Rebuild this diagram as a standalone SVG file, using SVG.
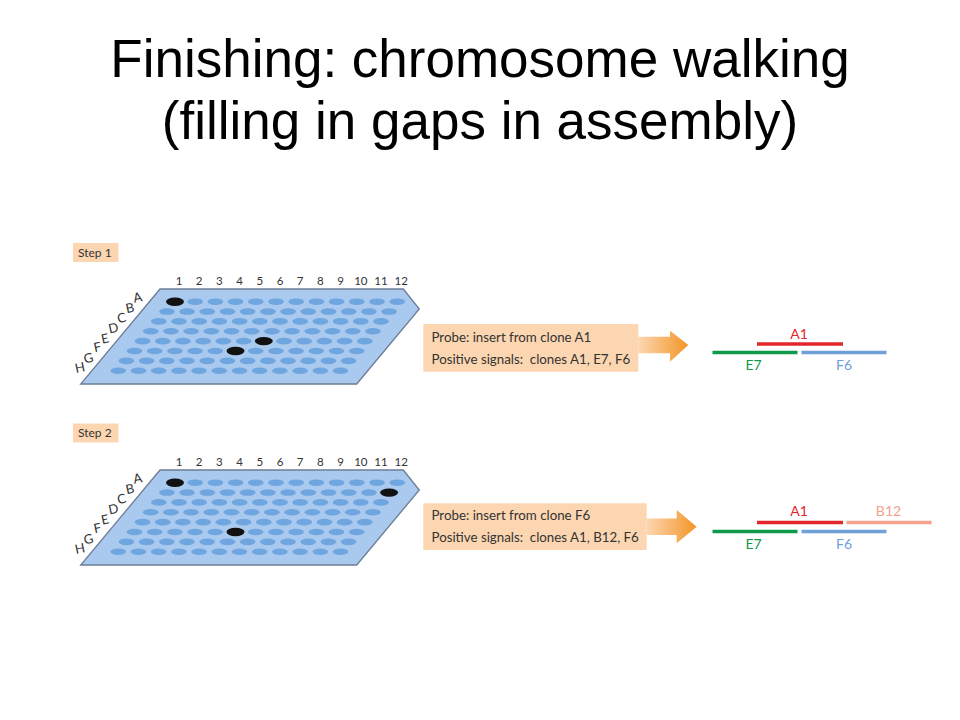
<svg xmlns="http://www.w3.org/2000/svg" xmlns:xlink="http://www.w3.org/1999/xlink" width="960" height="720" viewBox="0 0 960 720">
<style>
.title{font-family:"Liberation Sans",Arial,sans-serif;font-size:53px;fill:#000;text-anchor:middle}
.lbl{font-family:Lato,"Open Sans",sans-serif;fill:#333}
.step{font-size:12px}
.col{font-size:11.5px;text-anchor:middle}
.row{font-size:13px;text-anchor:middle}
.probe{font-size:13.3px}
.frag{font-family:Lato,"Open Sans",sans-serif;font-size:14px;text-anchor:middle}
.plate{fill:#a9c9ee;stroke:#6b7d95;stroke-width:1.3}
.well{fill:#6fa6e0}
.hit{fill:#111}
.peach{fill:#fcd6b1}
.bar{stroke-width:3.5;fill:none}
</style>
<defs>
<g id="wellrow">
<ellipse class="well" cx="0" cy="0" rx="7.8" ry="3.3"/>
<ellipse class="well" cx="20.2" cy="0" rx="7.8" ry="3.3"/>
<ellipse class="well" cx="40.4" cy="0" rx="7.8" ry="3.3"/>
<ellipse class="well" cx="60.6" cy="0" rx="7.8" ry="3.3"/>
<ellipse class="well" cx="80.8" cy="0" rx="7.8" ry="3.3"/>
<ellipse class="well" cx="101" cy="0" rx="7.8" ry="3.3"/>
<ellipse class="well" cx="121.2" cy="0" rx="7.8" ry="3.3"/>
<ellipse class="well" cx="141.4" cy="0" rx="7.8" ry="3.3"/>
<ellipse class="well" cx="161.6" cy="0" rx="7.8" ry="3.3"/>
<ellipse class="well" cx="181.8" cy="0" rx="7.8" ry="3.3"/>
<ellipse class="well" cx="202" cy="0" rx="7.8" ry="3.3"/>
<ellipse class="well" cx="222.2" cy="0" rx="7.8" ry="3.3"/>
</g>
<g id="plateBase">
<polygon class="plate" points="160,289 403.3,289 419.3,309 356.7,384 80.7,384"/>
<use xlink:href="#wellrow" transform="translate(175,301.7)"/>
<use xlink:href="#wellrow" transform="translate(166.9,311.56)"/>
<use xlink:href="#wellrow" transform="translate(158.8,321.42)"/>
<use xlink:href="#wellrow" transform="translate(150.7,331.28)"/>
<use xlink:href="#wellrow" transform="translate(142.6,341.14)"/>
<use xlink:href="#wellrow" transform="translate(134.5,351)"/>
<use xlink:href="#wellrow" transform="translate(126.4,360.86)"/>
<use xlink:href="#wellrow" transform="translate(118.3,370.72)"/>
<g class="lbl col">
<text x="179" y="285">1</text><text x="199.2" y="285">2</text><text x="219.4" y="285">3</text><text x="239.6" y="285">4</text><text x="259.8" y="285">5</text><text x="280" y="285">6</text><text x="300.2" y="285">7</text><text x="320.4" y="285">8</text><text x="340.6" y="285">9</text><text x="360.8" y="285">10</text><text x="381" y="285">11</text><text x="401.2" y="285">12</text>
</g>
<g class="lbl row">
<text x="137.5" y="302" transform="rotate(-12 137.5 297.5)">A</text>
<text x="130" y="312.5" transform="rotate(-12 130 308)">B</text>
<text x="121.5" y="322.5" transform="rotate(-12 121.5 318)">C</text>
<text x="113.5" y="332.5" transform="rotate(-12 113.5 328)">D</text>
<text x="105" y="343" transform="rotate(-12 105 338.5)">E</text>
<text x="97.5" y="351.5" transform="rotate(-12 97.5 347)">F</text>
<text x="88.5" y="362.5" transform="rotate(-12 88.5 358)">G</text>
<text x="80" y="372" transform="rotate(-12 80 367.5)">H</text>
</g>
</g>
<linearGradient id="arrowGrad" x1="0" y1="0" x2="1" y2="0">
<stop offset="0" stop-color="#fcd6b1"/>
<stop offset="1" stop-color="#f39526"/>
</linearGradient>
</defs>

<g id="title">
<text class="title" x="480" y="77">Finishing: chromosome walking</text>
<text class="title" x="480" y="139">(filling in gaps in assembly)</text>
</g>

<g id="step1-label">
<rect class="peach" x="73" y="243" width="45.5" height="19"/>
<text class="lbl step" x="78" y="256.5">Step 1</text>
</g>

<g id="plate1">
<use xlink:href="#plateBase"/>
<ellipse class="hit" cx="175" cy="301.7" rx="9" ry="4.2"/>
<ellipse class="hit" cx="263.8" cy="341.1" rx="9" ry="4.2"/>
<ellipse class="hit" cx="235.5" cy="351" rx="9" ry="4.2"/>
</g>

<g id="probe1">
<rect class="peach" x="423.3" y="324" width="215" height="47.7"/>
<text class="lbl probe" x="431.5" y="341.5">Probe: insert from clone A1</text>
<text class="lbl probe" x="431.5" y="364" xml:space="preserve">Positive signals:  clones A1, E7, F6</text>
</g>

<g id="fragments1">
<line class="bar" x1="757" y1="344" x2="843" y2="344" stroke="#e3262b"/>
<line class="bar" x1="712.5" y1="352.5" x2="797.5" y2="352.5" stroke="#0e9a4a"/>
<line class="bar" x1="801.5" y1="352.5" x2="886.5" y2="352.5" stroke="#6fa0d8"/>
<text class="frag" x="799" y="338.5" fill="#e3262b">A1</text>
<text class="frag" x="753.5" y="370" fill="#0e9a4a">E7</text>
<text class="frag" x="844" y="370" fill="#6fa0d8">F6</text>
</g>

<g id="step2-label">
<rect class="peach" x="73" y="423.5" width="45.5" height="19"/>
<text class="lbl step" x="78" y="437">Step 2</text>
</g>

<g id="plate2">
<use xlink:href="#plateBase" transform="translate(0,181)"/>
<ellipse class="hit" cx="175" cy="482.7" rx="9" ry="4.2"/>
<ellipse class="hit" cx="389.1" cy="492.6" rx="9" ry="4.2"/>
<ellipse class="hit" cx="235.5" cy="532" rx="9" ry="4.2"/>
</g>

<g id="probe2">
<rect class="peach" x="423.3" y="503.3" width="223.4" height="46.7"/>
<text class="lbl probe" x="431.5" y="520">Probe: insert from clone F6</text>
<text class="lbl probe" x="431.5" y="542" xml:space="preserve">Positive signals:  clones A1, B12, F6</text>
</g>

<g id="fragments2">
<line class="bar" x1="757" y1="522.5" x2="843" y2="522.5" stroke="#e3262b"/>
<line class="bar" x1="846.5" y1="522.5" x2="931.5" y2="522.5" stroke="#f4a28c"/>
<line class="bar" x1="712.5" y1="531.5" x2="797.5" y2="531.5" stroke="#0e9a4a"/>
<line class="bar" x1="801.5" y1="531.5" x2="886.5" y2="531.5" stroke="#6fa0d8"/>
<text class="frag" x="799" y="516" fill="#e3262b">A1</text>
<text class="frag" x="888.5" y="516" fill="#f4a28c">B12</text>
<text class="frag" x="753.5" y="548.5" fill="#0e9a4a">E7</text>
<text class="frag" x="844" y="548.5" fill="#6fa0d8">F6</text>
</g>

<g id="connectors">
<path d="M638.3,336.7 L670,336.7 L670,330.7 L688.3,345 L670,361.7 L670,353.3 L638.3,353.3 Z" fill="url(#arrowGrad)"/>
<path d="M646.7,518.4 L676.7,518.4 L676.7,510 L696.7,526.7 L676.7,543.3 L676.7,535 L646.7,535 Z" fill="url(#arrowGrad)"/>
</g>
</svg>
